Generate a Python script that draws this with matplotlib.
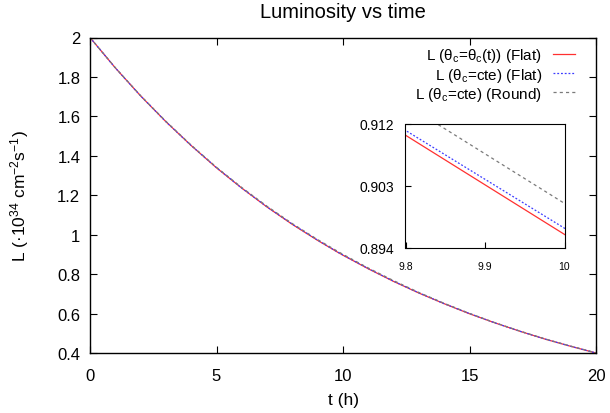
import numpy as np
import matplotlib
matplotlib.use("Agg")
import matplotlib.pyplot as plt
from matplotlib.ticker import FuncFormatter

plt.rcParams['font.family'] = ['Liberation Sans', 'DejaVu Sans']
plt.rcParams['mathtext.fontset'] = 'custom'
plt.rcParams['mathtext.rm'] = 'Liberation Sans'
plt.rcParams['mathtext.it'] = 'Liberation Sans'

# --- data ---
t_hours = [0, 1, 2, 3, 4, 5, 6, 7, 8, 9, 9.8, 9.9, 10,
           11, 12, 13, 14, 15, 16, 17, 18, 19, 20]
lum_flat_var = [2.000, 1.846, 1.704, 1.573, 1.452, 1.339, 1.236, 1.140, 1.052, 0.971,
                0.9103, 0.9031, 0.8959,
                0.827, 0.763, 0.704, 0.650, 0.599, 0.553, 0.510, 0.470, 0.434, 0.400]
lum_flat_cte = [2.000, 1.846, 1.704, 1.573, 1.452, 1.340, 1.236, 1.141, 1.053, 0.972,
                0.9110, 0.9039, 0.8968,
                0.828, 0.764, 0.705, 0.650, 0.600, 0.553, 0.510, 0.470, 0.434, 0.400]
lum_round_cte = [2.000, 1.847, 1.705, 1.575, 1.454, 1.342, 1.239, 1.144, 1.056, 0.975,
                 0.9148, 0.9076, 0.9004,
                 0.831, 0.767, 0.707, 0.652, 0.601, 0.554, 0.511, 0.471, 0.435, 0.401]

labels = [r"L (θ$_\mathrm{c}$=θ$_\mathrm{c}$(t)) (Flat)",
          r"L (θ$_\mathrm{c}$=cte) (Flat)",
          r"L (θ$_\mathrm{c}$=cte) (Round)"]
series = [lum_flat_var, lum_flat_cte, lum_round_cte]
styles = [dict(color='#ff3030', linestyle='-', linewidth=0.9),
          dict(color='#3b3bff', linestyle=(0, (1.5, 1.5)), linewidth=0.9),
          dict(color='#7a7a7a', linestyle=(0, (2.5, 2.5)), linewidth=0.9)]

fmt = FuncFormatter(lambda v, p: "%g" % round(v, 4))

fig = plt.figure(figsize=(6.1, 4.14), dpi=100)
ax = fig.add_axes([90/610, 1-354/414, 506/610, 315.5/414])

for y, lab, st in zip(series, labels, styles):
    ax.plot(t_hours, y, label=lab, **st)

ax.set_xlim(0, 20)
ax.set_ylim(0.4, 2)
ax.set_xticks([0, 5, 10, 15, 20])
ax.set_yticks([0.4, 0.6, 0.8, 1.0, 1.2, 1.4, 1.6, 1.8, 2.0])
ax.xaxis.set_major_formatter(fmt)
ax.yaxis.set_major_formatter(fmt)
ax.tick_params(direction='in', top=True, right=True, length=5, width=0.8,
               labelsize=12)
ax.tick_params(axis='x', pad=11)
ax.tick_params(axis='y', pad=7)
for s in ax.spines.values():
    s.set_linewidth(1.0)

ax.set_title("Luminosity vs time", fontsize=14.5, pad=15)
ax.set_xlabel("t (h)", fontsize=12.5, labelpad=6)
ax.set_ylabel(r"L (·10$^{34}$ cm$^{-2}$s$^{-1}$)", fontsize=12.5)
ax.yaxis.set_label_coords(-0.117, 0.5)

ax.legend(loc='upper right', bbox_to_anchor=(0.958, 0.972), markerfirst=False,
          frameon=False, fontsize=11, handlelength=1.4, handletextpad=0.75,
          labelspacing=0.08, borderpad=0, borderaxespad=0)

# --- inset zoom ---
axin = fig.add_axes([405.5/610, 1-248.5/414, 159/610, 124/414])
for y, st in zip(series, styles):
    axin.plot(t_hours, y, **st)
axin.set_xlim(9.8, 10)
axin.set_ylim(0.894, 0.912)
axin.set_xticks([9.8, 9.9, 10])
axin.set_yticks([0.894, 0.903, 0.912])
axin.xaxis.set_major_formatter(fmt)
axin.yaxis.set_major_formatter(fmt)
axin.tick_params(axis='x', direction='in', length=4, labelsize=7.5, pad=10)
axin.tick_params(axis='y', direction='in', length=4, labelsize=10, pad=8)

fig.savefig("out.png", dpi=100)
